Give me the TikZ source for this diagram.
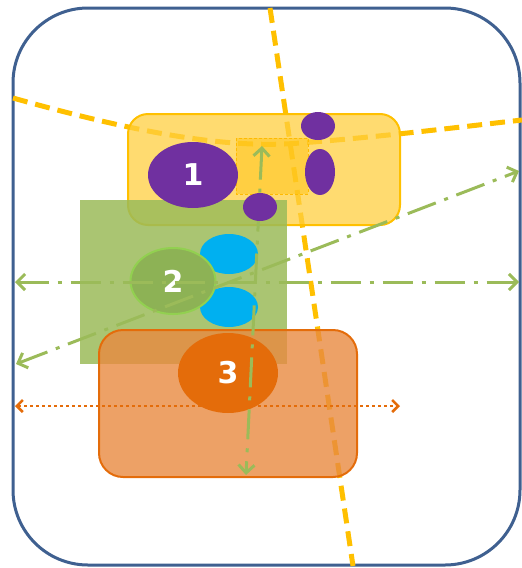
\documentclass[tikz,border=0pt]{standalone}
\usepackage{fontspec}
\setsansfont{DejaVu Sans}
\usetikzlibrary{arrows.meta,shapes.geometric}
\definecolor{frameblue}{HTML}{3F6090}
\definecolor{gold}{HTML}{FFC000}
\definecolor{paleyellow}{HTML}{FFCF40}
\definecolor{plum}{HTML}{7030A0}
\definecolor{olive}{HTML}{9BBB59}
\definecolor{leaf}{HTML}{8DB255}
\definecolor{lime}{HTML}{92D050}
\definecolor{sky}{HTML}{00B0F0}
\definecolor{peach}{HTML}{E98A40}
\definecolor{rust}{HTML}{E46C0A}
\tikzset{
  numlabel/.style={text=white, font=\sffamily\bfseries\fontsize{30}{30}\selectfont},
  yellowdash/.style={draw=gold, line width=5pt, dash pattern=on 15pt off 8pt},
  greendashdot/.style={draw=olive, line width=3pt, dash pattern=on 30pt off 9pt on 4pt off 9pt,
    {Straight Barb[length=8pt,width=16pt,line width=3pt]}-{Straight Barb[length=8pt,width=16pt,line width=3pt]}},
  orangedots/.style={draw=rust, line width=2.5pt, dash pattern=on 3pt off 3pt,
    {Straight Barb[length=6pt,width=12pt,line width=2.5pt]}-{Straight Barb[length=6pt,width=12pt,line width=2.5pt]}},
}
\begin{document}
\begin{tikzpicture}[x=1pt, y=-1pt]
\useasboundingbox (0,0) rectangle (522,568);

% outer frame
\draw[frameblue, line width=3pt, rounded corners=75pt] (13,8) rectangle (520,565);

% yellow dashed boundaries (beneath the zones)
\coordinate (yl) at (13,98);
\coordinate (yr) at (522,120);
\draw[yellowdash] (yl) .. controls (120,128) and (220,150) .. (300,143)
  .. controls (380,137) and (460,127) .. (yr);
\coordinate (yt) at (270,8);
\coordinate (yb) at (353,566);
\draw[yellowdash] (yt) -- (yb);

% yellow zone
\draw[fill=paleyellow, fill opacity=0.75, draw=gold, line width=2pt, rounded corners=20pt]
  (128,114) rectangle (400,225);
\draw[fill=gold, fill opacity=0.4, draw=gold!90!orange, line width=1pt, densely dashed]
  (236,138) rectangle (308,194);

% green zone
\draw[fill=olive, fill opacity=0.85, draw=none] (80,200) rectangle (287,364);

% orange zone
\draw[fill=peach, fill opacity=0.8, draw=rust, line width=2pt, rounded corners=24pt]
  (99,330) rectangle (357,477);

% blue pair behind circle 2
\fill[sky] (229,254) ellipse [x radius=29, y radius=20];
\fill[sky] (229,307) ellipse [x radius=29, y radius=20];

% numbered circles
\node[ellipse, draw=lime, line width=2pt, fill=leaf, minimum width=85pt, minimum height=66pt, inner sep=0pt] (c2) at (173,281) {};
\node[numlabel] at (c2) {2};
\node[ellipse, fill=rust, minimum width=100pt, minimum height=80pt, inner sep=0pt] (c3) at (228,373) {};
\node[numlabel] at (c3) {3};

% green dash-dot axes
\coordinate (hl) at (15,282);
\coordinate (hr) at (519,282);
\draw[greendashdot] (hl) -- (hr);
\coordinate (dl) at (16,364);
\coordinate (dr) at (519,171);
\draw[greendashdot] (dl) -- (dr);
\coordinate (vt) at (262,146);
\coordinate (vb) at (246,475);
\draw[greendashdot] (vt) -- (vb);

% orange dotted axis
\coordinate (ol) at (15,406);
\coordinate (or) at (400,406);
\draw[orangedots] (ol) -- (or);

% purple blobs
\node[ellipse, fill=plum, minimum width=90pt, minimum height=66pt, inner sep=0pt] (c1) at (193,175) {};
\node[numlabel] at (c1) {1};
\fill[plum] (318,126) ellipse [x radius=17, y radius=14];
\fill[plum] (320,172) ellipse [x radius=15, y radius=23];
\fill[plum] (260,207) ellipse [x radius=17, y radius=14];
\end{tikzpicture}
\end{document}
